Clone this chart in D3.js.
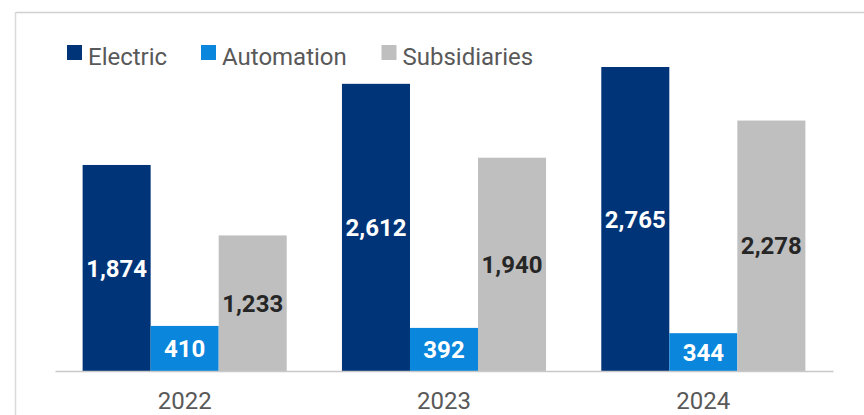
<!DOCTYPE html>
<html>
<head>
<meta charset="utf-8">
<script src="https://cdn.jsdelivr.net/npm/d3@7"></script>
<style>
  html, body { margin: 0; padding: 0; background: #fff; }
  svg { display: block; font-family: Roboto, "Liberation Sans", sans-serif; }
</style>
</head>
<body>
<svg id="chart" width="864" height="415"></svg>
<script>
// Revenue by business segment, per year
const years = ["2022", "2023", "2024"];
const seriesNames = ["Electric", "Automation", "Subsidiaries"];
const electric = [1874, 2612, 2765];
const automation = [410, 392, 344];
const subsidiaries = [1233, 1940, 2278];

const seriesColors = ["#003478", "#0a86dc", "#bfbfbf"];
const labelColors = ["#ffffff", "#ffffff", "#262626"];

const values = [electric, automation, subsidiaries];
const rows = years.map((y, i) => ({
  year: y,
  items: seriesNames.map((s, k) => ({ series: s, k, value: values[k][i] }))
}));

const svg = d3.select("#chart");
const W = 864, H = 415;
const left = 55, right = 833, baseline = 371;

// Panel frame (top and left edges)
svg.append("line").attr("x1", 15.5).attr("x2", W).attr("y1", 12.5).attr("y2", 12.5)
  .attr("stroke", "#d0d0d0").attr("stroke-width", 1.5);
svg.append("line").attr("x1", 15.5).attr("x2", 15.5).attr("y1", 12).attr("y2", H)
  .attr("stroke", "#d9d9d9").attr("stroke-width", 1.5);

const x0 = d3.scaleBand().domain(years).range([left, right]).paddingInner(0.213).paddingOuter(0.1065);
const x1 = d3.scaleBand().domain(seriesNames).range([0, x0.bandwidth()]);
const y = d3.scaleLinear().domain([0, 2765]).range([baseline, 67]);

const groups = svg.append("g").selectAll("g").data(rows).join("g")
  .attr("transform", d => `translate(${x0(d.year)},0)`);

groups.selectAll("rect").data(d => d.items).join("rect")
  .attr("x", d => x1(d.series))
  .attr("y", d => y(d.value))
  .attr("width", x1.bandwidth())
  .attr("height", d => baseline - y(d.value))
  .attr("fill", d => seriesColors[d.k]);

groups.selectAll("text").data(d => d.items).join("text")
  .attr("x", d => x1(d.series) + x1.bandwidth() / 2)
  .attr("y", d => (y(d.value) + baseline) / 2)
  .attr("text-anchor", "middle")
  .attr("dy", "0.36em")
  .attr("font-size", 24)
  .attr("font-weight", 700)
  .attr("fill", d => labelColors[d.k])
  .text(d => d3.format(",")(d.value));

// Category axis
const xAxis = svg.append("g").attr("transform", `translate(0,${baseline})`)
  .call(d3.axisBottom(x0).tickSize(0).tickPadding(20).tickSizeOuter(0));
xAxis.select(".domain").attr("stroke", "#c8c8c8").attr("stroke-width", 1.5);
xAxis.selectAll("text")
  .attr("font-family", "Roboto, 'Liberation Sans', sans-serif")
  .attr("font-size", 24).attr("fill", "#595959")
  .attr("dy", "0.71em").attr("y", 21);

// Legend
const legendX = [67, 201, 381.5];
const legend = svg.append("g").selectAll("g").data(seriesNames).join("g")
  .attr("transform", (d, i) => `translate(${legendX[i]},45)`);
legend.append("rect").attr("width", 15).attr("height", 15)
  .attr("fill", (d, i) => seriesColors[i]);
legend.append("text").attr("x", 21).attr("y", 20)
  .attr("font-size", 24).attr("fill", "#595959")
  .text(d => d);
</script>
</body>
</html>
